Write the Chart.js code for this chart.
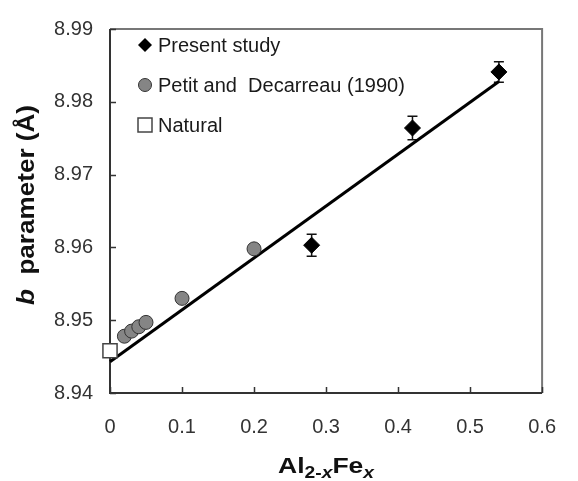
<!DOCTYPE html>
<html>
<head>
<meta charset="utf-8">
<script src="https://cdn.jsdelivr.net/npm/chart.js@4.4.1/dist/chart.umd.min.js"></script>
<style>
  html, body { margin: 0; padding: 0; background: #fff; }
  canvas { display: block; }
</style>
</head>
<body>
<canvas id="chart" width="578" height="481"></canvas>
<script>
// data
const presentX = [0.28, 0.42, 0.54];
const presentY = [8.9603, 8.9764, 8.9841];
const presentErr = [0.0015, 0.0016, 0.0014];

const petitX = [0.02, 0.03, 0.04, 0.05, 0.1, 0.2];
const petitY = [8.9478, 8.9485, 8.9491, 8.9497, 8.9530, 8.9598];

const naturalX = [0];
const naturalY = [8.9458];

// fitted line ends
const fitX = [0, 0.54];
const fitY = [8.9443, 8.9828];

const xTickVals = [0, 0.1, 0.2, 0.3, 0.4, 0.5, 0.6];
const xTickLabels = ["0", "0.1", "0.2", "0.3", "0.4", "0.5", "0.6"];
const yTickVals = [8.94, 8.95, 8.96, 8.97, 8.98, 8.99];
const yTickLabels = ["8.94", "8.95", "8.96", "8.97", "8.98", "8.99"];

const legendNames = ["Present study", "Petit and  Decarreau (1990)", "Natural"];

const FONT = "Arial, 'Liberation Sans', sans-serif";

function pts(xs, ys) {
    return xs.map((x, i) => ({ x: x, y: ys[i] }));
}

// error bars, drawn under the diamonds
const errorBars = {
    id: "errorBars",
    beforeDatasetsDraw(chart) {
        const { ctx, scales } = chart;
        ctx.save();
        ctx.strokeStyle = "#111";
        ctx.lineWidth = 1.5;
        presentX.forEach((x, i) => {
            const px = scales.x.getPixelForValue(x);
            const top = scales.y.getPixelForValue(presentY[i] + presentErr[i]);
            const bot = scales.y.getPixelForValue(presentY[i] - presentErr[i]);
            ctx.beginPath();
            ctx.moveTo(px, top); ctx.lineTo(px, bot);
            ctx.moveTo(px - 5, top); ctx.lineTo(px + 5, top);
            ctx.moveTo(px - 5, bot); ctx.lineTo(px + 5, bot);
            ctx.stroke();
        });
        ctx.restore();
    }
};

// frame, inward ticks
const frame = {
    id: "frame",
    beforeDatasetsDraw(chart) {
        const { ctx, chartArea: a, scales } = chart;
        ctx.save();
        ctx.lineWidth = 2;
        ctx.strokeStyle = "#777";
        ctx.beginPath();
        ctx.moveTo(a.left, a.top); ctx.lineTo(a.right, a.top); ctx.lineTo(a.right, a.bottom);
        ctx.stroke();

        ctx.strokeStyle = "#333";
        ctx.beginPath();
        ctx.moveTo(a.left, a.top); ctx.lineTo(a.left, a.bottom); ctx.lineTo(a.right, a.bottom);
        ctx.stroke();

        ctx.lineWidth = 1.5;
        ctx.beginPath();
        yTickVals.forEach(v => {
            const py = Math.round(scales.y.getPixelForValue(v)) + 0.5;
            ctx.moveTo(a.left, py); ctx.lineTo(a.left + 6, py);
        });
        xTickVals.forEach(v => {
            const px = Math.round(scales.x.getPixelForValue(v)) + 0.5;
            ctx.moveTo(px, a.bottom); ctx.lineTo(px, a.bottom - 6);
        });
        ctx.stroke();
        ctx.restore();
    }
};

// draws runs of text with their own fonts, returns the width
function drawRuns(ctx, runs, x, y, draw) {
    let w = 0;
    runs.forEach(r => {
        ctx.font = r.font;
        if (draw) ctx.fillText(r.text, x + w, y + (r.dy || 0));
        w += ctx.measureText(r.text).width;
    });
    return w;
}

const titles = {
    id: "titles",
    afterDraw(chart) {
        const { ctx, chartArea: a } = chart;
        ctx.save();
        ctx.fillStyle = "#111";
        ctx.textBaseline = "alphabetic";
        ctx.textAlign = "left";

        // x title: Al2-xFex
        const xRuns = [
            { text: "Al", font: "bold 22px " + FONT },
            { text: "2-", font: "bold 16px " + FONT, dy: 5 },
            { text: "x", font: "italic bold 16px " + FONT, dy: 5 },
            { text: "Fe", font: "bold 22px " + FONT },
            { text: "x", font: "italic bold 16px " + FONT, dy: 5 }
        ];
        const xw = drawRuns(ctx, xRuns, 0, 0, false);
        const xs = 96 / xw;
        ctx.save();
        ctx.translate((a.left + a.right) / 2 - 48, 473);
        ctx.scale(xs, 1);
        drawRuns(ctx, xRuns, 0, 0, true);
        ctx.restore();

        // y title: b parameter (Å)
        const yRuns = [
            { text: "b", font: "italic bold 23px " + FONT },
            { text: "  parameter (Å)", font: "bold 23px " + FONT }
        ];
        const yw = drawRuns(ctx, yRuns, 0, 0, false);
        const ys = 200 / yw;
        ctx.save();
        ctx.translate(34, 205 + 100);
        ctx.rotate(-Math.PI / 2);
        ctx.scale(ys, 1);
        drawRuns(ctx, yRuns, 0, 0, true);
        ctx.restore();

        // legend
        const lx = 145;
        const rows = [45, 85, 125];
        ctx.font = "20px " + FONT;
        ctx.textBaseline = "middle";
        ctx.fillStyle = "#1a1a1a";
        legendNames.forEach((name, i) => ctx.fillText(name, 158, rows[i] + 1));

        ctx.fillStyle = "#000";
        ctx.beginPath();
        ctx.moveTo(lx, rows[0] - 7); ctx.lineTo(lx + 7, rows[0]);
        ctx.lineTo(lx, rows[0] + 7); ctx.lineTo(lx - 7, rows[0]);
        ctx.closePath();
        ctx.fill();

        ctx.beginPath();
        ctx.arc(lx, rows[1], 6.5, 0, Math.PI * 2);
        ctx.fillStyle = "#858585";
        ctx.fill();
        ctx.strokeStyle = "#333";
        ctx.lineWidth = 1;
        ctx.stroke();

        ctx.fillStyle = "#fff";
        ctx.fillRect(lx - 7, rows[2] - 7, 14, 14);
        ctx.strokeStyle = "#444";
        ctx.lineWidth = 1.5;
        ctx.strokeRect(lx - 7, rows[2] - 7, 14, 14);
        ctx.restore();
    }
};

new Chart(document.getElementById("chart"), {
    type: "scatter",
    data: {
        datasets: [
            {
                label: legendNames[0],
                data: pts(presentX, presentY),
                pointStyle: "rectRot",
                pointRadius: 8,
                backgroundColor: "#000",
                borderColor: "#000",
                borderWidth: 1,
                clip: false,
                order: 1
            },
            {
                label: legendNames[1],
                data: pts(petitX, petitY),
                pointStyle: "circle",
                pointRadius: 7,
                backgroundColor: "#858585",
                borderColor: "#333",
                borderWidth: 1,
                clip: false,
                order: 2
            },
            {
                label: legendNames[2],
                data: pts(naturalX, naturalY),
                pointStyle: "rect",
                pointRadius: 10,
                backgroundColor: "#fff",
                borderColor: "#444",
                borderWidth: 1.5,
                clip: false,
                order: 3
            },
            {
                type: "line",
                label: "fit",
                data: pts(fitX, fitY),
                borderColor: "#000",
                borderWidth: 3,
                pointRadius: 0,
                showLine: true,
                fill: false,
                clip: false,
                order: 10
            }
        ]
    },
    options: {
        responsive: false,
        animation: false,
        devicePixelRatio: 1,
        layout: { padding: { top: 21, right: 16, left: 0, bottom: 0 } },
        plugins: {
            legend: { display: false },
            tooltip: { enabled: false }
        },
        scales: {
            x: {
                type: "linear",
                min: 0,
                max: 0.6,
                afterBuildTicks: s => { s.ticks = xTickVals.map(v => ({ value: v })); },
                afterFit: s => { s.height = 88; },
                grid: { display: false, drawTicks: false },
                border: { display: false },
                ticks: {
                    padding: 22,
                    color: "#333",
                    font: { family: FONT, size: 20 },
                    callback: (v, i) => xTickLabels[i]
                }
            },
            y: {
                type: "linear",
                min: 8.94,
                max: 8.99,
                afterBuildTicks: s => { s.ticks = yTickVals.map(v => ({ value: v })); },
                afterFit: s => { s.width = 110; },
                grid: { display: false, drawTicks: false },
                border: { display: false },
                ticks: {
                    padding: 17,
                    color: "#333",
                    font: { family: FONT, size: 20 },
                    callback: (v, i) => yTickLabels[i]
                }
            }
        }
    },
    plugins: [frame, errorBars, titles]
});
</script>
</body>
</html>
